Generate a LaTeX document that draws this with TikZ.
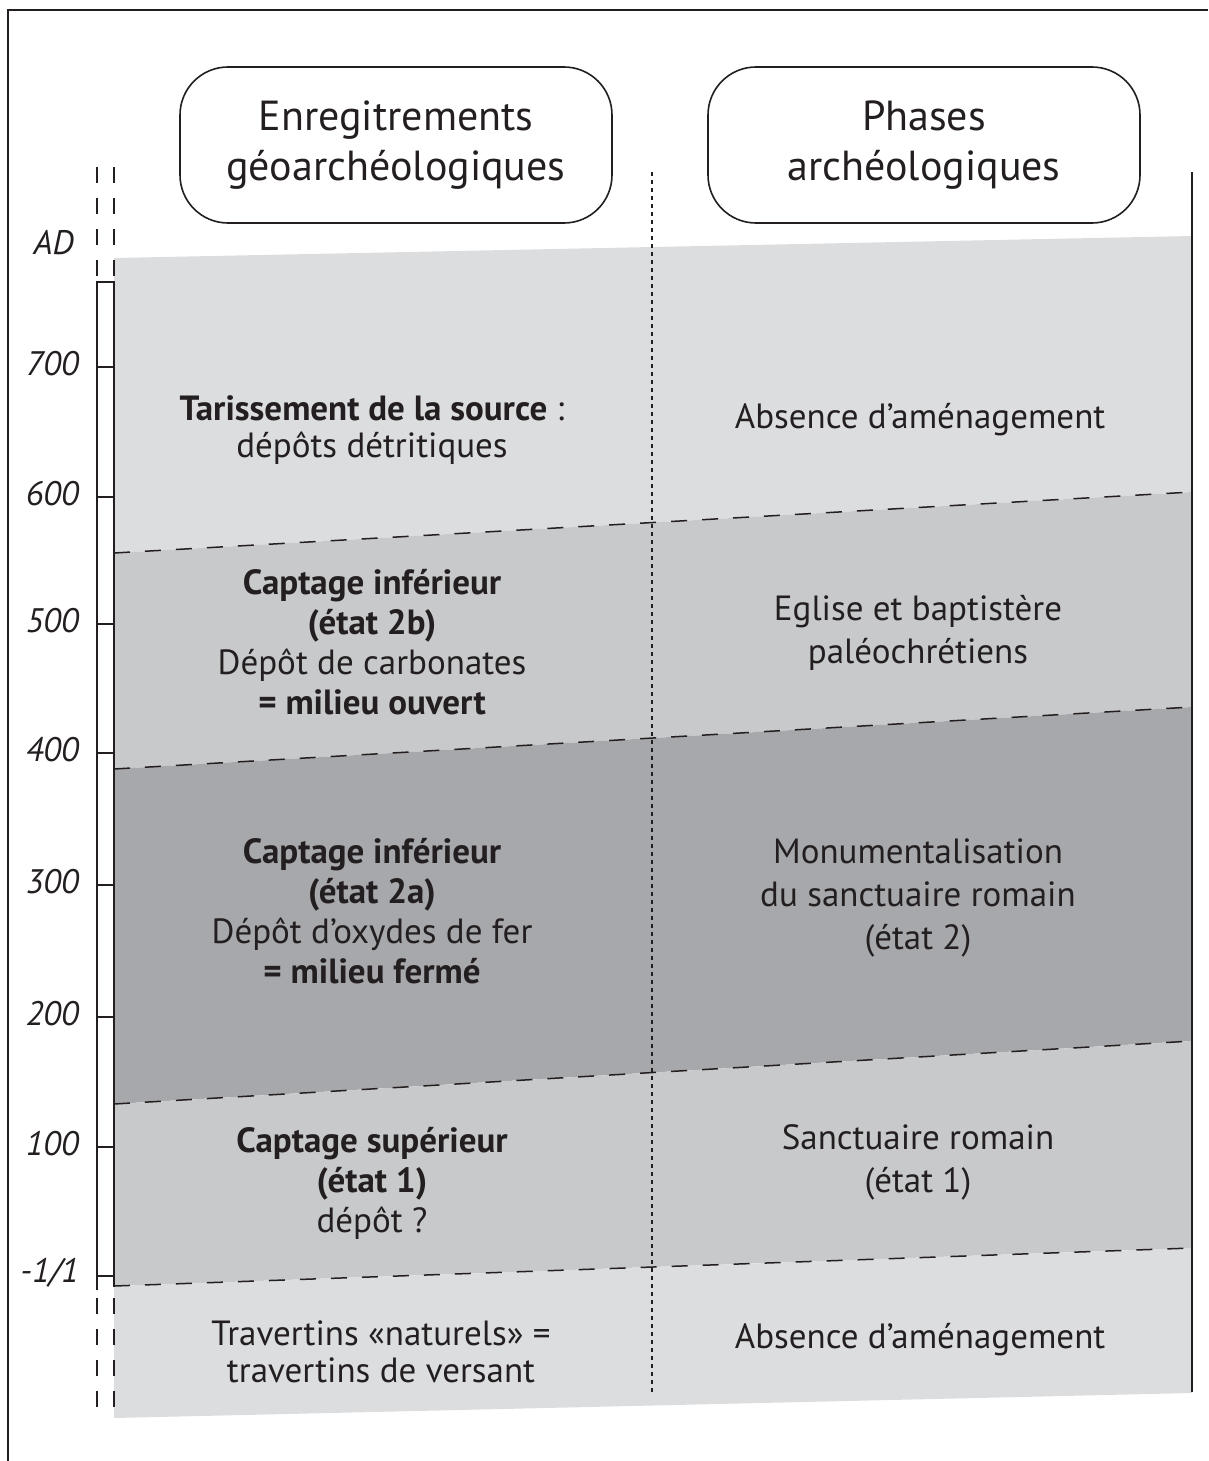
\documentclass[tikz,border=0pt]{standalone}
\usepackage{fontspec}
\setmainfont{PT Sans}
\usepackage{xcolor}
\usepackage{tikz}
\definecolor{bandlight}{HTML}{DCDDDF}
\definecolor{bandmid}{HTML}{C8C9CB}
\definecolor{banddark}{HTML}{A7A8AB}
\definecolor{ink}{HTML}{231F20}
\tikzset{
  hdrbox/.style={draw=ink,line width=1.6pt,rounded corners=48pt,minimum width=432pt,minimum height=156pt,align=center,text=ink,font=\fontsize{42}{50}\selectfont},
  celltext/.style={align=center,text=ink,font=\fontsize{35}{40}\selectfont},
  phasetext/.style={celltext,font=\fontsize{35}{43}\selectfont},
  tighttext/.style={celltext,font=\fontsize{35}{37}\selectfont},
  yearlabel/.style={anchor=east,inner sep=0pt,text=ink,font=\itshape\fontsize{34}{36}\selectfont},
  limit/.style={ink,line width=1.5pt,dash pattern=on 16pt off 15pt},
  scaleline/.style={ink,line width=1.8pt}
}

\begin{document}
\begin{tikzpicture}[x=1pt,y=-1pt]
		\useasboundingbox (0,0) rectangle (1208,1461);
		% corners of the bands
		\coordinate (l0) at (114,258);  \coordinate (r0) at (1192,236);
		\coordinate (l1) at (114,553);  \coordinate (r1) at (1192,492);
		\coordinate (l2) at (114,769);  \coordinate (r2) at (1192,707);
		\coordinate (l3) at (114,1104); \coordinate (r3) at (1192,1041);
		\coordinate (l4) at (114,1286); \coordinate (r4) at (1192,1248);
		\coordinate (l5) at (114,1418); \coordinate (r5) at (1192,1393);
		%
		\fill[bandlight] (l0) -- (r0) -- (r1) -- (l1) -- cycle;
		\fill[bandmid] (l1) -- (r1) -- (r2) -- (l2) -- cycle;
		\fill[banddark] (l2) -- (r2) -- (r3) -- (l3) -- cycle;
		\fill[bandmid] (l3) -- (r3) -- (r4) -- (l4) -- cycle;
		\fill[bandlight] (l4) -- (r4) -- (r5) -- (l5) -- cycle;
		% limits between phases
		\draw[limit] (l1) -- (r1);
		\draw[limit] (l2) -- (r2);
		\draw[limit] (l3) -- (r3);
		\draw[limit] (l4) -- (r4);
		%
		\draw[ink,line width=2pt] (8,1461) -- (8,10) -- (1208,10);
		\draw[ink,line width=1.6pt,dash pattern=on 4pt off 4pt] (652,172) -- (652,1395);
		\draw[scaleline] (1192,172) -- (1192,1392);
		% time scale
		\draw[scaleline] (97,1290) -- (97,282) -- (114,282) -- (114,1287);
		\draw[limit] (97,167) -- (97,278);
		\draw[limit] (114,167) -- (114,278);
		\draw[limit] (97,1298) -- (97,1418);
		\draw[limit] (114,1298) -- (114,1418);
		\foreach \y/\lab in {367/700,497/600,624/500,753/400,885/300,1017/200,1147/100}{
			\draw[scaleline] (97,\y) -- (114,\y);
			\node[yearlabel] (year\lab) at (79,\y-3) {\lab};
		}
		\draw[scaleline] (97,1276) -- (114,1276);
		\node[yearlabel] (yearzero) at (79,1273) {-1/1};
		\node[yearlabel] (yearad) at (74,243) {AD};
		% headers
		\node[hdrbox] (geo) at (396,145) {Enregitrements\\géoarchéologiques};
		\node[hdrbox] (arch) at (924,145) {Phases\\archéologiques};
		% geoarchaeological records
		\node[tighttext] (geo1) at (372,430) {\textbf{Tarissement de la source} :\\dépôts détritiques};
		\node[celltext] (geo2) at (372,642) {\textbf{Captage inférieur}\\\textbf{(état 2b)}\\Dépôt de carbonates\\\textbf{= milieu ouvert}};
		\node[celltext] (geo3) at (372,911) {\textbf{Captage inférieur}\\\textbf{(état 2a)}\\Dépôt d’oxydes de fer\\\textbf{= milieu fermé}};
		\node[celltext] (geo4) at (372,1183) {\textbf{Captage supérieur}\\\textbf{(état 1)}\\dépôt ?};
		\node[tighttext] (geo5) at (381,1352) {Travertins «naturels» =\\travertins de versant};
		% archaeological phases
		\node[phasetext] (arch1) at (920,420) {Absence d’aménagement};
		\node[phasetext] (arch2) at (918,633) {Eglise et baptistère\\paléochrétiens};
		\node[phasetext] (arch3) at (918,898) {Monumentalisation\\du sanctuaire romain\\(état 2)};
		\node[phasetext] (arch4) at (918,1162) {Sanctuaire romain\\(état 1)};
		\node[phasetext] (arch5) at (920,1340) {Absence d’aménagement};
\end{tikzpicture}
\end{document}
